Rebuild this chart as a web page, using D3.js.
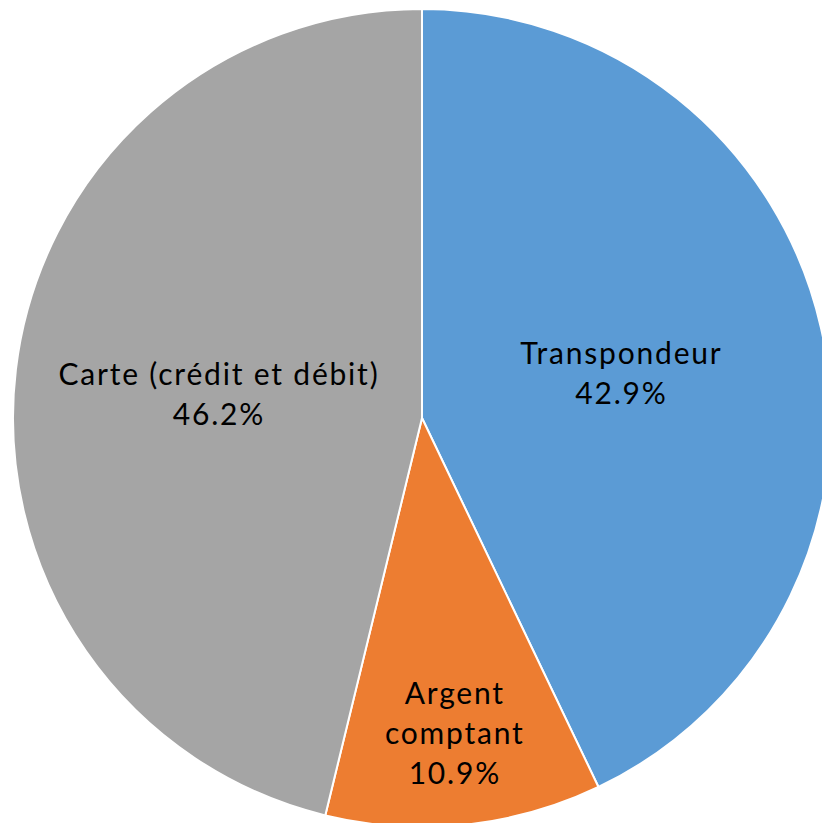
<!DOCTYPE html>
<html>
<head>
<meta charset="utf-8">
<script src="https://cdn.jsdelivr.net/npm/d3@7"></script>
<style>
  body { margin: 0; background: #fff; }
  svg { display: block; }
  text { font-family: "Lato", "DejaVu Sans", sans-serif; }
</style>
</head>
<body>
<svg width="822" height="823"></svg>
<script>
var categories = ["Transpondeur", "Argent comptant", "Carte (crédit et débit)"];
var values = [42.9, 10.9, 46.2];
var labelLines = [["Transpondeur"], ["Argent", "comptant"], ["Carte (crédit et débit)"]];
var colors = ["#5b9bd5", "#ed7d31", "#a5a5a5"];

var svg = d3.select("svg"),
    cx = 422,
    cy = 418,
    radius = 409;

var data = categories.map(function(c, i) {
  return {name: c, value: values[i], lines: labelLines[i], color: colors[i]};
});

var pie = d3.pie()
    .sort(null)
    .value(function(d) { return d.value; });

var arc = d3.arc()
    .innerRadius(0)
    .outerRadius(radius);

// label distance from centre, as a share of the radius
var labelRadius = [0.5, 0.775, 0.5];

var g = svg.append("g")
    .attr("transform", "translate(" + cx + "," + cy + ")");

var arcs = pie(data);

g.selectAll("path")
    .data(arcs)
  .enter().append("path")
    .attr("d", arc)
    .attr("fill", function(d) { return d.data.color; })
    .attr("stroke", "#fff")
    .attr("stroke-width", 2)
    .attr("stroke-linejoin", "round");

var labels = g.selectAll("text")
    .data(arcs)
  .enter().append("text")
    .attr("text-anchor", "middle")
    .attr("font-size", 30)
    .attr("letter-spacing", 1.8)
    .attr("fill", "#000")
    .attr("transform", function(d, i) {
      var r = radius * labelRadius[i];
      var c = d3.arc().innerRadius(r).outerRadius(r).centroid(d);
      return "translate(" + c[0] + "," + c[1] + ")";
    });

labels.each(function(d) {
  var t = d3.select(this),
      lines = d.data.lines.concat([d3.format(".1f")(d.data.value) + "%"]),
      lh = 40,
      y0 = -(lines.length - 1) * lh / 2 + 11;
  lines.forEach(function(s, k) {
    t.append("tspan")
        .attr("x", 0)
        .attr("y", y0 + k * lh)
        .text(s);
  });
});
</script>
</body>
</html>
